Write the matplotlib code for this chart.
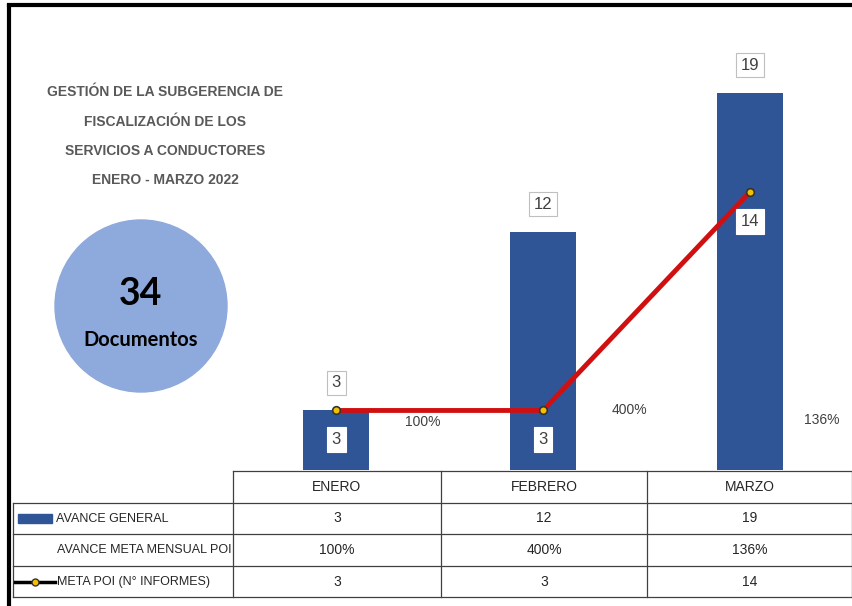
import matplotlib
matplotlib.use("Agg")
import matplotlib.pyplot as plt
from matplotlib.patches import Circle, Rectangle
from matplotlib.lines import Line2D

# --- data ---
months = ["ENERO", "FEBRERO", "MARZO"]
avance_general = [3, 12, 19]
meta_poi = [3, 3, 14]
avance_pct = ["100%", "400%", "136%"]
total_docs = 34
title_lines = ["GESTIÓN DE LA SUBGERENCIA DE", "FISCALIZACIÓN DE LOS",
               "SERVICIOS A CONDUCTORES", "ENERO - MARZO 2022"]
row_labels = ["AVANCE GENERAL", "AVANCE META MENSUAL POI", "META POI (N° INFORMES)"]

BAR = "#2F5597"
RED = "#D01010"
YEL = "#F2C200"
TXT = "#262626"
NARROW = ["Liberation Sans", "DejaVu Sans"]

W, H = 853, 606
fig = plt.figure(figsize=(W / 100, H / 100), dpi=100)

# overlay in pixel coordinates for frame, title, circle and table
ov = fig.add_axes([0, 0, 1, 1])
ov.set_xlim(0, W)
ov.set_ylim(H, 0)
ov.axis("off")

# main chart area
x0, x1, yb, yt = 233, 853, 470, 30
ax = fig.add_axes([x0 / W, (H - yb) / H, (x1 - x0) / W, (yb - yt) / H])
ymax = (yb - yt) / ((yb - 93) / 19)
xs = list(range(len(months)))
ax.bar(xs, avance_general, width=0.32, color=BAR, zorder=2)
ax.plot(xs, meta_poi, color=RED, lw=3.5, zorder=3, solid_capstyle="round")
ax.plot(xs, meta_poi, "o", ms=5.5, mfc=YEL, mec="#333333", mew=1.2, zorder=4)
ax.set_xlim(-0.5, 2.5)
ax.set_ylim(0, ymax)
ax.axis("off")

for x, v in zip(xs, avance_general):
    ax.annotate(str(v), (x, v), xytext=(0, 20), textcoords="offset points",
                ha="center", va="center", fontsize=12, color="#404040", family=NARROW,
                bbox=dict(boxstyle="square,pad=0.28", fc="white", ec="#BFBFBF", lw=0.8),
                zorder=5)
for x, v in zip(xs, meta_poi):
    ax.annotate(str(v), (x, v), xytext=(0, -21), textcoords="offset points",
                ha="center", va="center", fontsize=12, color="#404040", family=NARROW,
                bbox=dict(boxstyle="square,pad=0.28", fc="white", ec="white", lw=0.8),
                zorder=5)
pct_dx = [0.42, 0.42, 0.35]
pct_y = [2.4, 3.0, 2.5]
for x, p, dx, yy in zip(xs, avance_pct, pct_dx, pct_y):
    ax.text(x + dx, yy, p, ha="center", va="center", fontsize=10,
            color="#404040", family=NARROW)

# frame
ov.add_line(Line2D([9, 9], [6, H], color="black", lw=3))
ov.add_line(Line2D([9, W], [5, 5], color="black", lw=3))

# title
for i, t in enumerate(title_lines):
    ov.text(165, 92 + i * 29.5, t, ha="center", va="center", fontsize=10,
            fontweight="bold", color="#595959", family=NARROW)

# circle
ov.add_patch(Circle((141, 306), 86, color="#8EA9DB", zorder=1))
ov.text(141, 294, str(total_docs), ha="center", va="center", fontsize=27,
        fontweight="bold", color="black", family=["Lato", "DejaVu Sans"], zorder=2)
ov.text(141, 340, "Documentos", ha="center", va="center", fontsize=14.5,
        fontweight="bold", color="black", family=["Lato", "DejaVu Sans"], zorder=2)

# data table
lc, lw = "#404040", 0.9
rows_y = [471, 503, 534, 566, 597]
col_x = [233, 441, 647, 853]
lx = 13
ov.add_line(Line2D([233, W], [rows_y[0]] * 2, color=lc, lw=lw))
for y in rows_y[1:]:
    ov.add_line(Line2D([lx, W], [y, y], color=lc, lw=lw))
ov.add_line(Line2D([lx, lx], [rows_y[1], rows_y[-1]], color=lc, lw=lw))
for x in col_x[:-1]:
    ov.add_line(Line2D([x, x], [rows_y[0], rows_y[-1]], color=lc, lw=lw))
ov.add_line(Line2D([W - 1, W - 1], [rows_y[0], rows_y[-1]], color=lc, lw=lw))

cx = [(col_x[i] + col_x[i + 1]) / 2 for i in range(3)]
cy = [(rows_y[i] + rows_y[i + 1]) / 2 for i in range(4)]
kw = dict(ha="center", va="center", fontsize=10, color=TXT, family=NARROW)
for i in range(3):
    ov.text(cx[i], cy[0], months[i], **kw)
    ov.text(cx[i], cy[1], str(avance_general[i]), **kw)
    ov.text(cx[i], cy[2], avance_pct[i], **kw)
    ov.text(cx[i], cy[3], str(meta_poi[i]), **kw)

lkw = dict(ha="left", va="center", fontsize=9, color=TXT, family=NARROW)
ov.add_patch(Rectangle((18, cy[1] - 4.5), 34, 9, color=BAR))
ov.text(56, cy[1], row_labels[0], **lkw)
ov.text(57, cy[2], row_labels[1], **lkw)
ov.add_line(Line2D([15, 55], [cy[3], cy[3]], color="black", lw=2.5))
ov.plot([35], [cy[3]], "o", ms=5, mfc=YEL, mec="#333333", mew=1)
ov.text(57, cy[3], row_labels[2], **lkw)

fig.savefig("out.png", dpi=100)
